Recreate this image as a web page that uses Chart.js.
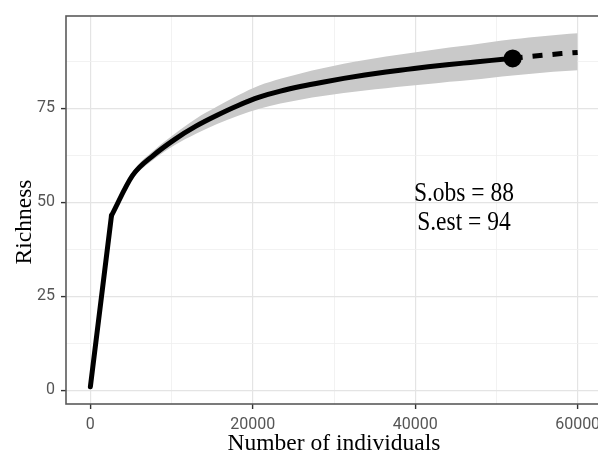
<!DOCTYPE html>
<html>
<head>
<meta charset="utf-8">
<script src="https://cdn.jsdelivr.net/npm/chart.js@4.4.1/dist/chart.umd.min.js"></script>
<style>
  html, body { margin: 0; padding: 0; background: #fff; overflow: hidden; }
  #wrap { width: 620px; height: 456px; }
</style>
</head>
<body>
<div id="wrap"><canvas id="rarefaction" width="620" height="456"></canvas></div>
<script>
// rarefaction (observed part), sample size -> richness
const sizesObs = [1, 2600, 5200, 7800, 10400, 13000, 15600, 18200, 20800, 23400, 26000,
                  28600, 31200, 33800, 36400, 39000, 41600, 44200, 46800, 49400, 52000];
const richObs  = [1, 46.5, 57.2, 62.6, 66.8, 70.3, 73.2, 75.8, 78.0, 79.6, 80.9,
                  82.0, 83.0, 83.9, 84.7, 85.4, 86.1, 86.7, 87.25, 87.8, 88.3];

// extrapolation
const sizesExt = [52000, 54000, 56000, 58000, 60000];
const richExt  = [88.3, 88.8, 89.2, 89.6, 89.9];

// confidence band (from the first knot on; it is too thin to see below that)
const ciSizes = sizesObs.slice(1).concat(sizesExt.slice(1));
const ciLower = [46.2, 56.3, 61.4, 65.3, 68.3, 70.9, 73.1, 74.9, 76.3, 77.4, 78.3, 79.1,
                 79.8, 80.4, 81.0, 81.5, 82.1, 82.6, 83.2, 83.8, 84.2, 84.6, 84.9, 85.2];
const ciUpper = [46.8, 58.1, 63.8, 68.3, 72.3, 75.5, 78.5, 81.1, 82.9, 84.4, 85.7, 86.9,
                 87.9, 88.8, 89.6, 90.4, 91.2, 91.9, 92.7, 93.4, 93.9, 94.3, 94.7, 95.0];

// observed point
const obsSize = [52000];
const obsRich = [88.3];

// ticks
const xMajor = [0, 20000, 40000, 60000];
const xMinor = [10000, 30000, 50000];
const yMajor = [0, 25, 50, 75];
const yMinor = [12.5, 37.5, 62.5, 87.5];

// annotation
const noteText = ['S.obs = 88', 'S.est = 94'];
const noteX = [46000, 46000];
const noteY = [52.3, 44.5];

const toPoints = (xs, ys) => xs.map((x, i) => ({ x: x, y: ys[i] }));

const panelPlugin = {
  id: 'panel',
  afterDraw(chart) {
    const { ctx, chartArea: a, scales } = chart;
    ctx.save();
    ctx.strokeStyle = '#5a5a5a';
    ctx.lineWidth = 1.6;
    ctx.strokeRect(a.left, a.top, a.right - a.left, a.bottom - a.top);

    ctx.fillStyle = '#000';
    ctx.font = '23.5px "Liberation Serif", "Times New Roman", serif';
    ctx.textAlign = 'center';
    ctx.textBaseline = 'middle';

    // y axis title, sits a little below the panel centre in the original
    ctx.save();
    ctx.translate(25, (a.top + a.bottom) / 2 + 12);
    ctx.rotate(-Math.PI / 2);
    ctx.fillText('Richness', 0, 0);
    ctx.restore();

    noteText.forEach((t, i) => {
      const px = scales.x.getPixelForValue(noteX[i]);
      const py = scales.y.getPixelForValue(noteY[i]);
      ctx.save();
      ctx.translate(px, py);
      ctx.scale(1, 1.15);
      ctx.fillText(t, 0, 0);
      ctx.restore();
    });
    ctx.restore();
  }
};

function gridOpts(major) {
  return {
    color: c => major.includes(c.tick.value) ? '#e4e4e4' : '#efefef',
    lineWidth: c => major.includes(c.tick.value) ? 1.2 : 0.8,
    tickColor: c => major.includes(c.tick.value) ? '#333333' : 'rgba(0,0,0,0)',
    tickWidth: 1.4,
    tickLength: 5,
    drawTicks: true
  };
}

const ctx = document.getElementById('rarefaction');

new Chart(ctx, {
  type: 'line',
  data: {
    datasets: [
      {
        type: 'scatter',
        label: 'S.obs',
        data: toPoints(obsSize, obsRich),
        pointRadius: 9,
        pointBackgroundColor: '#000',
        pointBorderWidth: 0,
        order: 0
      },
      {
        // steep first step, straight
        label: 'observed start',
        data: toPoints(sizesObs.slice(0, 2), richObs.slice(0, 2)),
        borderColor: '#000',
        borderWidth: 5,
        pointRadius: 0,
        borderCapStyle: 'round',
        fill: false,
        order: 1
      },
      {
        label: 'observed',
        data: toPoints(sizesObs.slice(1), richObs.slice(1)),
        borderColor: '#000',
        borderWidth: 5,
        pointRadius: 0,
        cubicInterpolationMode: 'monotone',
        borderCapStyle: 'round',
        borderJoinStyle: 'round',
        fill: false,
        order: 1
      },
      {
        label: 'extrapolated',
        data: toPoints(sizesExt, richExt),
        borderColor: '#000',
        borderWidth: 5,
        borderDash: [10, 10],
        pointRadius: 0,
        fill: false,
        order: 1
      },
      {
        label: 'upper',
        data: toPoints(ciSizes, ciUpper),
        borderWidth: 0,
        borderColor: 'rgba(0,0,0,0)',
        pointRadius: 0,
        cubicInterpolationMode: 'monotone',
        backgroundColor: '#c9c9c9',
        fill: '+1',
        order: 5
      },
      {
        label: 'lower',
        data: toPoints(ciSizes, ciLower),
        borderWidth: 0,
        borderColor: 'rgba(0,0,0,0)',
        pointRadius: 0,
        cubicInterpolationMode: 'monotone',
        fill: false,
        order: 6
      }
    ]
  },
  options: {
    responsive: false,
    animation: false,
    layout: { padding: { top: 16, right: 18, left: 0, bottom: 0 } },
    plugins: {
      legend: { display: false },
      tooltip: { enabled: false }
    },
    scales: {
      x: {
        type: 'linear',
        min: -3000,
        max: 63000,
        afterBuildTicks: s => { s.ticks = xMajor.concat(xMinor).sort((a, b) => a - b).map(v => ({ value: v })); },
        afterFit: s => { s.height = 52; },
        ticks: {
          autoSkip: false,
          maxRotation: 0,
          padding: 6,
          color: '#555555',
          font: { family: 'Roboto', size: 16 },
          callback: v => xMajor.includes(v) ? String(v) : ''
        },
        grid: gridOpts(xMajor),
        border: { display: false },
        title: {
          display: true,
          text: 'Number of individuals',
          color: '#000',
          font: { family: 'Liberation Serif', size: 23.5, lineHeight: 1 },
          padding: 0
        }
      },
      y: {
        min: -3.6,
        max: 99.6,
        afterBuildTicks: s => { s.ticks = yMajor.concat(yMinor).sort((a, b) => a - b).map(v => ({ value: v })); },
        afterFit: s => { s.width = 66; },
        ticks: {
          autoSkip: false,
          padding: 6,
          color: '#555555',
          font: { family: 'Roboto', size: 16 },
          callback: v => yMajor.includes(v) ? String(v) : ''
        },
        grid: gridOpts(yMajor),
        border: { display: false }
      }
    }
  },
  plugins: [panelPlugin]
});
</script>
</body>
</html>
